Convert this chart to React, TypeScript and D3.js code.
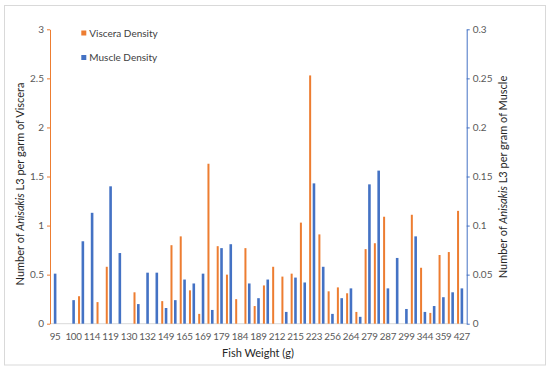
import React, { useEffect, useRef } from 'react';
import * as d3 from 'd3';

// 45 fish, sorted by weight; only every other weight is labelled on the axis
const weightLabels: (string | null)[] = [
  '95', null, '100', null, '114', null, '119', null, '130', null,
  '132', null, '149', null, '165', null, '169', null, '179', null,
  '184', null, '189', null, '212', null, '215', null, '223', null,
  '256', null, '264', null, '279', null, '287', null, '299', null,
  '344', null, '359', null, '427',
];

const visceraDensity: (number | null)[] = [
  null, null, null, 0.28, null, 0.22, 0.58, null, null, 0.32,
  null, null, 0.23, 0.8, 0.89, 0.34, 0.1, 1.63, 0.79, 0.5,
  0.25, 0.77, 0.18, 0.39, 0.58, 0.48, 0.51, 1.03, 2.53, 0.91,
  0.33, 0.37, 0.31, 0.12, 0.76, 0.82, 1.09, null, null, 1.11,
  0.57, 0.11, 0.7, 0.73, 1.15,
];

const muscleDensity: (number | null)[] = [
  0.051, null, 0.024, 0.084, 0.113, null, 0.14, 0.072, null, 0.02,
  0.052, 0.052, 0.016, 0.024, 0.045, 0.041, 0.051, 0.014, 0.077, 0.081,
  null, 0.041, 0.026, 0.045, null, 0.012, 0.047, 0.042, 0.143, 0.058,
  0.01, 0.026, 0.036, 0.007, 0.142, 0.156, 0.036, 0.067, 0.015, 0.089,
  0.012, 0.018, 0.027, 0.032, 0.036,
];

const leftTicks = [0, 0.5, 1, 1.5, 2, 2.5, 3];
const rightTicks = [0, 0.05, 0.1, 0.15, 0.2, 0.25, 0.3];

const ORANGE = '#ED7D31';
const BLUE = '#4472C4';
const FONT = 'Lato, "Open Sans", sans-serif';

const App = () => {
  const ref = useRef<SVGSVGElement | null>(null);

  useEffect(() => {
    const svg = d3.select(ref.current);
    svg.selectAll('*').remove();

    const left = 50.5;
    const right = 466.5;
    const top = 29.3;
    const bottom = 323.7;

    // chart border
    svg.append('rect')
      .attr('x', 4.5).attr('y', 5.5).attr('width', 541).attr('height', 359.5)
      .attr('fill', '#fff').attr('stroke', '#d9d9d9');

    const x = d3.scaleBand<number>()
      .domain(d3.range(weightLabels.length))
      .range([left, right])
      .padding(0);

    const yLeft = d3.scaleLinear().domain([0, 3]).range([bottom, top]);
    const yRight = d3.scaleLinear().domain([0, 0.3]).range([bottom, top]);

    // category axis line
    svg.append('line')
      .attr('x1', left).attr('x2', right).attr('y1', bottom).attr('y2', bottom)
      .attr('stroke', '#d9d9d9').attr('stroke-width', 1);

    // viscera bars sit at the left edge of each slot
    svg.selectAll('.viscera')
      .data(visceraDensity.map((v, i) => ({ v, i })).filter((d) => d.v !== null))
      .enter()
      .append('rect')
      .attr('class', 'viscera')
      .attr('x', (d) => (x(d.i) as number) - 0.2)
      .attr('y', (d) => yLeft(d.v as number))
      .attr('width', 2)
      .attr('height', (d) => bottom - yLeft(d.v as number))
      .attr('fill', ORANGE);

    // muscle bars centred in the slot
    svg.selectAll('.muscle')
      .data(muscleDensity.map((v, i) => ({ v, i })).filter((d) => d.v !== null))
      .enter()
      .append('rect')
      .attr('class', 'muscle')
      .attr('x', (d) => (x(d.i) as number) + x.bandwidth() / 2 - 1.3)
      .attr('y', (d) => yRight(d.v as number))
      .attr('width', 2.6)
      .attr('height', (d) => bottom - yRight(d.v as number))
      .attr('fill', BLUE);

    // left axis
    const gl = svg.append('g').attr('transform', `translate(${left - 0.5},0)`);
    gl.call(d3.axisLeft(yLeft).tickValues(leftTicks).tickSize(3).tickSizeOuter(0).tickFormat((d) => String(d)));
    gl.select('.domain').attr('stroke', ORANGE);
    gl.selectAll('.tick line').attr('stroke', ORANGE);
    gl.selectAll('.tick text')
      .attr('fill', '#595959').attr('font-size', 10).attr('font-family', FONT).attr('x', -6);

    // right axis
    const gr = svg.append('g').attr('transform', `translate(${right + 0.2},0)`);
    gr.call(d3.axisRight(yRight).tickValues(rightTicks).tickSize(3).tickSizeOuter(0).tickFormat((d) => String(d)));
    gr.select('.domain').attr('stroke', BLUE);
    gr.selectAll('.tick line').attr('stroke', BLUE);
    gr.selectAll('.tick text')
      .attr('fill', '#595959').attr('font-size', 10).attr('font-family', FONT).attr('x', 6);

    // category labels
    svg.selectAll('.xlab')
      .data(weightLabels.map((l, i) => ({ l, i })).filter((d) => d.l !== null))
      .enter()
      .append('text')
      .attr('class', 'xlab')
      .attr('x', (d) => (x(d.i) as number) + x.bandwidth() / 2)
      .attr('y', 339.5)
      .attr('text-anchor', 'middle')
      .attr('font-size', 9.8)
      .attr('letter-spacing', -0.2)
      .attr('font-family', FONT)
      .attr('fill', '#595959')
      .text((d) => d.l as string);

    // axis titles
    svg.append('text')
      .attr('x', 258).attr('y', 356.5)
      .attr('text-anchor', 'middle').attr('font-size', 11).attr('font-family', FONT).attr('fill', '#262626')
      .text('Fish Weight (g)');

    const leftTitle = svg.append('text')
      .attr('transform', 'translate(24,184) rotate(-90)')
      .attr('text-anchor', 'middle').attr('font-size', 11).attr('font-family', FONT).attr('fill', '#262626');
    leftTitle.append('tspan').text('Number of ');
    leftTitle.append('tspan').attr('font-style', 'italic').text('Anisakis');
    leftTitle.append('tspan').text(' L3 per garm of Viscera');

    const rightTitle = svg.append('text')
      .attr('transform', 'translate(506.5,177) rotate(-90)')
      .attr('text-anchor', 'middle').attr('font-size', 11).attr('font-family', FONT).attr('fill', '#262626');
    rightTitle.append('tspan').text('Number of ');
    rightTitle.append('tspan').attr('font-style', 'italic').text('Anisakis');
    rightTitle.append('tspan').text(' L3 per gram of Muscle');

    // legend
    const legend = [
      { name: 'Viscera Density', color: ORANGE, y: 33 },
      { name: 'Muscle Density', color: BLUE, y: 57.5 },
    ];
    const lg = svg.selectAll('.legend').data(legend).enter().append('g').attr('class', 'legend');
    lg.append('rect')
      .attr('x', 81.3).attr('y', (d) => d.y - 2.5).attr('width', 5).attr('height', 5)
      .attr('fill', (d) => d.color);
    lg.append('text')
      .attr('x', 89.3).attr('y', (d) => d.y + 3.5)
      .attr('font-size', 10).attr('font-family', FONT).attr('fill', '#404040')
      .text((d) => d.name);
  }, []);

  return (
    <svg ref={ref} width={550} height={370} style={{ position: 'absolute', left: 0, top: 0 }} />
  );
};

export default App;
